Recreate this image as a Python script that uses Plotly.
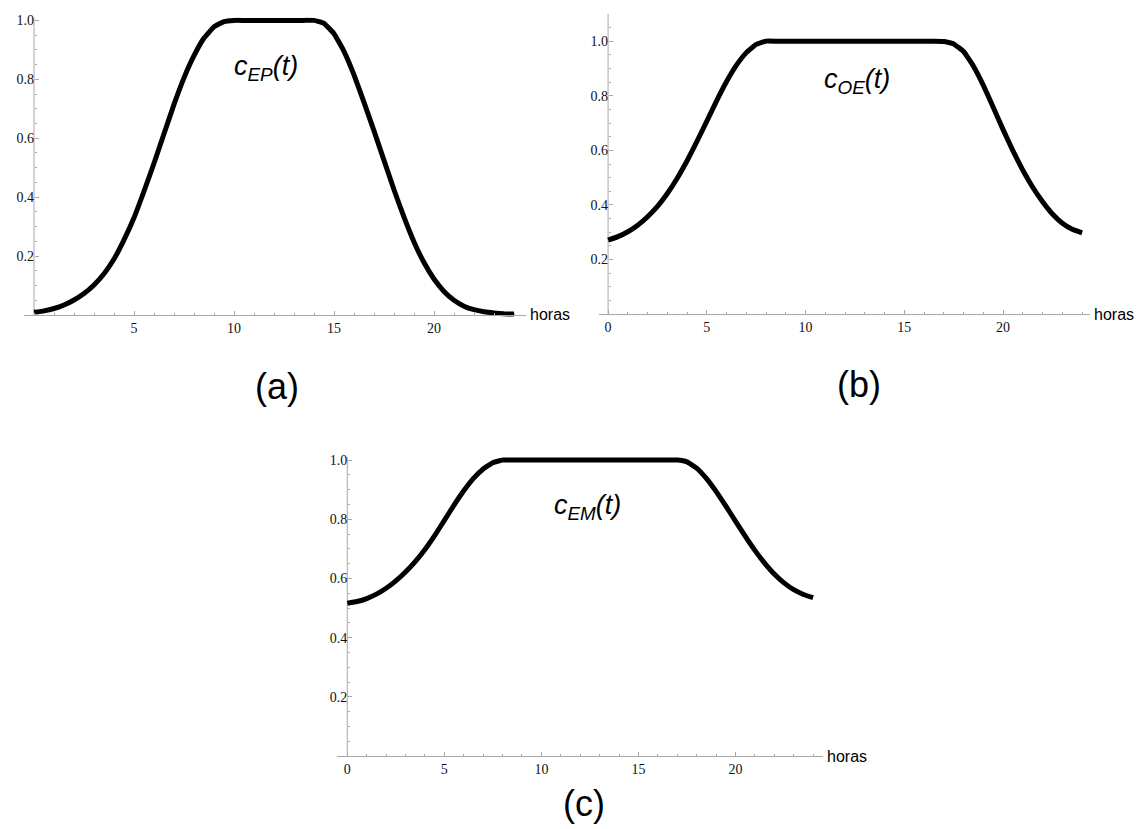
import plotly.graph_objects as go

W, H = 1136, 829

# ---------------- data ----------------
hours = [i * 0.5 for i in range(49)]  # 0 .. 24 h

c_EP = [0.009, 0.014, 0.022, 0.034, 0.051, 0.073, 0.102, 0.140, 0.190, 0.255,
        0.330, 0.420, 0.515, 0.615, 0.715, 0.805, 0.880, 0.940, 0.978, 0.996,
        1.000, 1.000, 1.000, 1.000, 1.000, 1.000, 1.000, 1.000, 1.000, 0.990,
        0.955, 0.895, 0.815, 0.722, 0.625, 0.525, 0.425, 0.332, 0.248, 0.178,
        0.122, 0.080, 0.050, 0.030, 0.018, 0.011, 0.007, 0.004, 0.003]

c_OE = [0.271, 0.284, 0.302, 0.326, 0.357, 0.395, 0.442, 0.498, 0.562, 0.633,
        0.707, 0.782, 0.852, 0.912, 0.958, 0.988, 1.000, 1.000, 1.000, 1.000,
        1.000, 1.000, 1.000, 1.000, 1.000, 1.000, 1.000, 1.000, 1.000, 1.000,
        1.000, 1.000, 1.000, 1.000, 0.999, 0.990, 0.962, 0.908, 0.838, 0.758,
        0.676, 0.598, 0.527, 0.465, 0.412, 0.367, 0.333, 0.311, 0.298]

c_EM = [0.516, 0.522, 0.532, 0.547, 0.567, 0.592, 0.622, 0.657, 0.698, 0.745,
        0.796, 0.848, 0.896, 0.938, 0.970, 0.991, 1.000, 1.000, 1.000, 1.000,
        1.000, 1.000, 1.000, 1.000, 1.000, 1.000, 1.000, 1.000, 1.000, 1.000,
        1.000, 1.000, 1.000, 1.000, 1.000, 0.994, 0.973, 0.938, 0.894, 0.845,
        0.794, 0.743, 0.695, 0.652, 0.615, 0.585, 0.562, 0.546, 0.535]

x_ticks_a = [5, 10, 15, 20]
x_ticks_bc = [0, 5, 10, 15, 20]
y_ticks = [0.2, 0.4, 0.6, 0.8, 1.0]
y_tick_text = ["0.2", "0.4", "0.6", "0.8", "1.0"]

curve_labels = ["<i>c</i><sub><i>EP</i></sub><i>(t)</i>",
                "<i>c</i><sub><i>OE</i></sub><i>(t)</i>",
                "<i>c</i><sub><i>EM</i></sub><i>(t)</i>"]
panel_labels = ["(a)", "(b)", "(c)"]
x_title = "horas"

# ---------------- layout geometry (pixels) ----------------
def px(x):
    return x / W

def py(y):
    return 1 - y / H

panels = [
    dict(xr=[-0.5, 24.6], xpx=[24, 526], ytop=1.01, y0px=312.5, ytpx=13.5,
         xt=x_ticks_a, data=c_EP, lab=(266, 64), plab=(277, 384)),
    dict(xr=[-0.46, 24.4], xpx=[599, 1090], ytop=1.10, y0px=311.7, ytpx=9.9,
         xt=x_ticks_bc, data=c_OE, lab=(857, 77), plab=(859, 382)),
    dict(xr=[-0.51, 24.5], xpx=[337.4, 822.8], ytop=1.01, y0px=755.7, ytpx=455.3,
         xt=x_ticks_bc, data=c_EM, lab=(587, 505), plab=(584, 803)),
]

fig = go.Figure()
layout = dict(width=W, height=H, margin=dict(l=0, r=0, t=0, b=0),
              paper_bgcolor="white", plot_bgcolor="white", showlegend=False)
annotations = []
shapes = []

axis_color = "#a8a8a8"
tick_font = dict(family="Liberation Serif", size=14, color="#111111")

for i, p in enumerate(panels, start=1):
    xa = "x" if i == 1 else f"x{i}"
    ya = "y" if i == 1 else f"y{i}"
    xkey = "xaxis" if i == 1 else f"xaxis{i}"
    ykey = "yaxis" if i == 1 else f"yaxis{i}"

    ppu = (p["y0px"] - p["ytpx"]) / p["ytop"]
    ybot = -0.035
    bot_px = p["y0px"] - ybot * ppu
    t0_px = p["xpx"][0] + (0 - p["xr"][0]) * (p["xpx"][1] - p["xpx"][0]) / (p["xr"][1] - p["xr"][0])

    fig.add_trace(go.Scatter(x=hours, y=p["data"], mode="lines",
                             line=dict(color="black", width=5, shape="spline", smoothing=0.3),
                             xaxis=xa, yaxis=ya, hoverinfo="skip"))

    layout[xkey] = dict(domain=[px(p["xpx"][0]), px(p["xpx"][1])], range=p["xr"],
                        anchor="free", position=py(p["y0px"]),
                        showline=True, linecolor=axis_color, linewidth=1,
                        showgrid=False, zeroline=False,
                        tickmode="array", tickvals=p["xt"], ticktext=[str(v) for v in p["xt"]],
                        ticks="inside", ticklen=4, tickcolor=axis_color, tickwidth=1,
                        tickfont=tick_font,
                        minor=dict(dtick=1, tick0=0, ticks="inside", ticklen=2,
                                   tickcolor=axis_color, showgrid=False))
    layout[ykey] = dict(domain=[py(bot_px), py(p["ytpx"])], range=[ybot, p["ytop"]],
                        anchor="free", position=px(t0_px),
                        showline=False, showgrid=False, zeroline=False,
                        tickmode="array", tickvals=y_ticks, ticktext=y_tick_text,
                        ticks="inside", ticklen=4, tickcolor=axis_color, tickwidth=1,
                        tickfont=tick_font,
                        minor=dict(dtick=0.05, tick0=0, ticks="inside", ticklen=2,
                                   tickcolor=axis_color, showgrid=False))
    shapes.append(dict(type="line", xref=xa, yref=ya, x0=0, x1=0, y0=0, y1=p["ytop"],
                       line=dict(color=axis_color, width=1), layer="below"))

    annotations.append(dict(xref="paper", yref="paper", x=px(p["xpx"][1] + 2), y=py(p["y0px"]),
                            xanchor="left", yanchor="middle", showarrow=False, text=x_title,
                            font=dict(family="Liberation Sans", size=16, color="black")))
    annotations.append(dict(xref="paper", yref="paper", x=px(p["lab"][0]), y=py(p["lab"][1]),
                            xanchor="center", yanchor="middle", showarrow=False,
                            text=curve_labels[i - 1],
                            font=dict(family="Liberation Sans", size=27, color="black")))
    annotations.append(dict(xref="paper", yref="paper", x=px(p["plab"][0]), y=py(p["plab"][1]),
                            xanchor="center", yanchor="middle", showarrow=False,
                            text=panel_labels[i - 1], borderpad=0,
                            font=dict(family="Liberation Sans", size=36, color="black")))

layout["annotations"] = annotations
layout["shapes"] = shapes
fig.update_layout(**layout)
fig.write_html("out.html")
